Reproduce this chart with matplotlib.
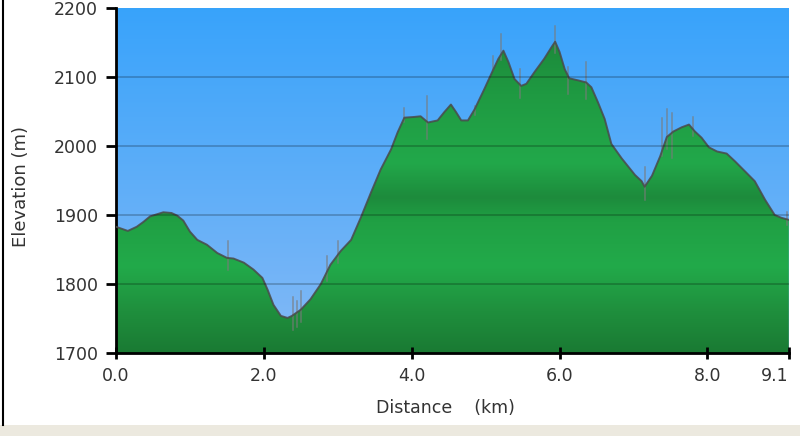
import numpy as np
import matplotlib
matplotlib.use("Agg")
import matplotlib.pyplot as plt
from matplotlib.colors import LinearSegmentedColormap
from matplotlib.lines import Line2D
from matplotlib.patches import Rectangle

# profile
dist_km = [0.00, 0.16, 0.28, 0.37, 0.46, 0.64, 0.75, 0.83, 0.91, 1.00,
           1.10, 1.23, 1.37, 1.50, 1.59, 1.73, 1.86, 1.98, 2.05, 2.13,
           2.23, 2.32, 2.38, 2.50, 2.63, 2.77, 2.90, 3.04, 3.18, 3.31,
           3.45, 3.58, 3.72, 3.81, 3.90, 4.03, 4.12, 4.22, 4.35, 4.44,
           4.53, 4.60, 4.67, 4.76, 4.85, 4.98, 5.10, 5.17, 5.24, 5.31,
           5.39, 5.48, 5.55, 5.66, 5.79, 5.89, 5.94, 6.00, 6.07, 6.13,
           6.25, 6.36, 6.43, 6.52, 6.61, 6.70, 6.84, 7.02, 7.11, 7.15,
           7.25, 7.36, 7.45, 7.54, 7.65, 7.75, 7.83, 7.92, 8.02, 8.13,
           8.26, 8.37, 8.51, 8.64, 8.78, 8.91, 9.00, 9.10]
elev_m = [1883, 1877, 1883, 1890, 1898, 1904, 1903, 1899, 1892, 1876,
          1864, 1857, 1845, 1838, 1837, 1831, 1821, 1809, 1792, 1770,
          1754, 1751, 1754, 1763, 1778, 1800, 1828, 1848, 1864, 1896,
          1933, 1966, 1995, 2020, 2041, 2042, 2043, 2034, 2037, 2049,
          2060, 2049, 2037, 2037, 2053, 2082, 2110, 2126, 2138, 2121,
          2097, 2087, 2090, 2107, 2126, 2143, 2151, 2136, 2111, 2098,
          2095, 2092, 2085, 2063, 2039, 2003, 1982, 1958, 1949, 1941,
          1957, 1985, 2013, 2021, 2027, 2031, 2021, 2012, 1998, 1992,
          1989, 1978, 1963, 1949, 1922, 1900, 1896, 1893]

# gps noise spikes (distance, low, high)
spike_x = [1.51, 2.40, 2.45, 2.50, 2.86, 3.00, 3.90, 4.21, 4.85, 5.10,
           5.21, 5.47, 5.94, 6.12, 6.36, 7.15, 7.38, 7.45, 7.52, 7.80, 9.08]
spike_lo = [1820, 1733, 1738, 1745, 1805, 1830, 2035, 2010, 2045, 2110,
            2125, 2070, 2135, 2075, 2068, 1922, 1985, 1995, 1983, 2014, 1885]
spike_hi = [1862, 1781, 1775, 1790, 1840, 1862, 2055, 2072, 2058, 2130,
            2162, 2111, 2174, 2115, 2122, 1969, 2040, 2053, 2048, 2042, 1905]

x_ticks = [0.0, 2.0, 4.0, 6.0, 8.0, 9.1]
y_ticks = [1700, 1800, 1900, 2000, 2100, 2200]

fig = plt.figure(figsize=(8, 4.36), dpi=100)
fig.patch.set_facecolor('white')
ax = fig.add_axes([0.145, 0.19, 0.841, 0.792])

xmin, xmax, ymin, ymax = 0, 9.1, 1700, 2200
ext = [xmin, xmax, ymin, ymax]

# sky gradient
sky = LinearSegmentedColormap.from_list('sky', ['#84b9f6', '#38a3fb'])
grad = np.linspace(0, 1, 256).reshape(-1, 1)
ax.imshow(grad, cmap=sky, extent=ext, origin='lower', aspect='auto', zorder=0)

# green fill with banded gradient, clipped to the profile
grn = LinearSegmentedColormap.from_list('grn', [
    (0.0, '#1a7a33'), (0.12, '#1f8f3d'), (0.25, '#22aa4a'),
    (0.38, '#20a044'), (0.45, '#1d8b3c'), (0.55, '#22a84a'),
    (0.75, '#1f9a42'), (0.9, '#1d8a3b'), (1.0, '#1c8339')])
fill = ax.fill_between(dist_km, ymin, elev_m, color='none', zorder=1)
img = ax.imshow(grad, cmap=grn, extent=ext, origin='lower', aspect='auto', zorder=1)
img.set_clip_path(fill.get_paths()[0], transform=ax.transData)

for xs, lo, hi in zip(spike_x, spike_lo, spike_hi):
    ax.plot([xs, xs], [lo, hi], color='#7a7a7a', alpha=0.7, lw=1.1, zorder=2)

ax.plot(dist_km, elev_m, color='#4a4a4a', alpha=0.85, lw=1.4, zorder=3)

for yv in y_ticks[1:-1]:
    ax.axhline(yv, color='#000000', alpha=0.22, lw=1.3, zorder=4)

ax.set_xlim(xmin, xmax)
ax.set_ylim(ymin, ymax)
ax.set_xticks(x_ticks)
ax.set_xticklabels(['%.1f' % v for v in x_ticks])
ax.set_yticks(y_ticks)
ax.get_xticklabels()[-1].set_ha('right')

ax.spines['top'].set_visible(False)
ax.spines['right'].set_visible(False)
ax.spines['left'].set_linewidth(2)
ax.spines['bottom'].set_linewidth(2)
ax.tick_params(axis='y', length=7, width=2, direction='out', labelsize=12.5,
               labelcolor='#333333', pad=6)
ax.tick_params(axis='x', length=8, width=2, direction='inout', labelsize=12.5,
               labelcolor='#333333', pad=6)

ax.text(0.49, -0.16, 'Distance    (km)', transform=ax.transAxes, fontsize=12.5,
        color='#333333', ha='center', va='center')
ax.text(-0.141, 0.484, 'Elevation (m)', transform=ax.transAxes, fontsize=13,
        color='#333333', ha='center', va='center', rotation=90)

# window frame bits
fig.add_artist(Rectangle((0, 0), 1, 11 / 436, transform=fig.transFigure,
                         facecolor='#ece9df', edgecolor='none'))
fig.add_artist(Line2D([2.5 / 800, 2.5 / 800], [11 / 436, 1], transform=fig.transFigure,
                      color='black', lw=1.5))

fig.savefig('out.png', dpi=100)
